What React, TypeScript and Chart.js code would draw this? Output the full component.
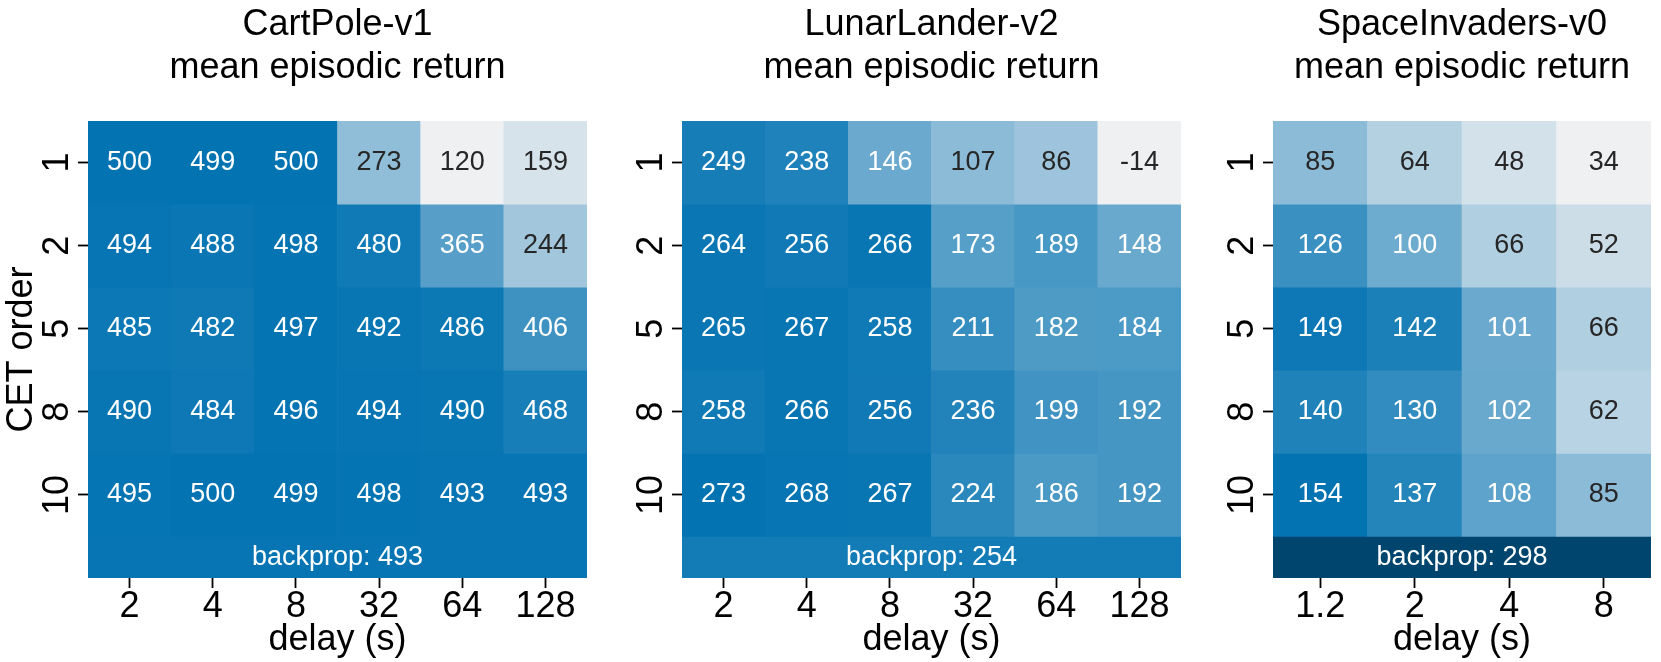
import React, { useEffect, useRef } from 'react';
import { Chart, registerables } from 'chart.js';

Chart.register(...registerables);

// ---------- data ----------
const cetOrders = ['1', '2', '5', '8', '10'];

const cartPoleDelays = ['2', '4', '8', '32', '64', '128'];
const cartPoleReturns = [
  [500, 499, 500, 273, 120, 159],
  [494, 488, 498, 480, 365, 244],
  [485, 482, 497, 492, 486, 406],
  [490, 484, 496, 494, 490, 468],
  [495, 500, 499, 498, 493, 493],
];
const cartPoleBackprop = 493;

const lunarDelays = ['2', '4', '8', '32', '64', '128'];
const lunarReturns = [
  [249, 238, 146, 107, 86, -14],
  [264, 256, 266, 173, 189, 148],
  [265, 267, 258, 211, 182, 184],
  [258, 266, 256, 236, 199, 192],
  [273, 268, 267, 224, 186, 192],
];
const lunarBackprop = 254;

const spaceDelays = ['1.2', '2', '4', '8'];
const spaceReturns = [
  [85, 64, 48, 34],
  [126, 100, 66, 52],
  [149, 142, 101, 66],
  [140, 130, 102, 62],
  [154, 137, 108, 85],
];
const spaceBackprop = 298;

const cartPoleTitle = ['CartPole-v1', 'mean episodic return'];
const lunarTitle = ['LunarLander-v2', 'mean episodic return'];
const spaceTitle = ['SpaceInvaders-v0', 'mean episodic return'];
const xAxisTitle = 'delay (s)';
const yAxisTitle = 'CET order';

// ---------- style ----------
const FONT = "'Liberation Sans', Arial, Helvetica, sans-serif";
const LOW = [239, 240, 242];
const HIGH = [3, 115, 178];
const OVER = [0, 69, 110];
const DARK_TEXT = '#262626';

function colorFor(v: number, vmin: number, vmax: number): number[] {
  if (v > vmax) return OVER;
  let t = (v - vmin) / (vmax - vmin);
  t = Math.max(0, Math.min(1, t));
  return LOW.map((c, i) => Math.round(c + (HIGH[i] - c) * t));
}
function rgb(c: number[]) {
  return `rgb(${c[0]},${c[1]},${c[2]})`;
}
function textColorFor(c: number[]) {
  const f = (x: number) => {
    x /= 255;
    return x <= 0.03928 ? x / 12.92 : Math.pow((x + 0.055) / 1.055, 2.4);
  };
  const L = 0.2126 * f(c[0]) + 0.7152 * f(c[1]) + 0.0722 * f(c[2]);
  return L > 0.408 ? DARK_TEXT : '#ffffff';
}

const cellLabels = {
  id: 'cellLabels',
  afterDatasetsDraw(chart: any) {
    const ctx = chart.ctx;
    chart.data.datasets.forEach((ds: any, di: number) => {
      const meta = chart.getDatasetMeta(di);
      meta.data.forEach((el: any, i: number) => {
        const v = ds.cellValues[i];
        const cx = el.x;
        const cy = (el.y + el.base) / 2;
        ctx.save();
        ctx.font = `${ds.isBand ? 27 : 27}px ${FONT}`;
        ctx.fillStyle = ds.textColors[i];
        ctx.textAlign = 'center';
        ctx.textBaseline = 'middle';
        ctx.fillText(ds.isBand ? `backprop: ${v}` : String(v), cx, cy);
        ctx.restore();
      });
    });
  },
};

type PanelSpec = {
  title: string[];
  delays: string[];
  values: number[][];
  backprop: number;
  showYTitle: boolean;
  left: number;
  width: number;
  yWidth: number;
  rightPad: number;
};

function buildConfig(p: PanelSpec): any {
  const flat = p.values.flat();
  const vmin = Math.min(...flat);
  const vmax = Math.max(...flat);
  const datasets: any[] = p.values.map((row, r) => {
    const cols = row.map((v) => colorFor(v, vmin, vmax));
    return {
      label: 'CET order ' + cetOrders[r],
      data: row.map(() => [r - 0.5, r + 0.5]),
      backgroundColor: cols.map(rgb),
      cellValues: row,
      textColors: cols.map(textColorFor),
      isBand: false,
      grouped: false,
      categoryPercentage: 1,
      barPercentage: 1,
      borderWidth: 0,
      xAxisID: 'x',
      yAxisID: 'y',
    };
  });
  const bandCol = colorFor(p.backprop, vmin, vmax);
  datasets.push({
    label: 'backprop',
    data: [[cetOrders.length - 0.5, cetOrders.length]],
    backgroundColor: [rgb(bandCol)],
    cellValues: [p.backprop],
    textColors: ['#ffffff'],
    isBand: true,
    grouped: false,
    categoryPercentage: 1,
    barPercentage: 1,
    borderWidth: 0,
    xAxisID: 'x2',
    yAxisID: 'y',
  });

  return {
    type: 'bar',
    data: { labels: p.delays, datasets },
    plugins: [cellLabels],
    options: {
      responsive: false,
      animation: false,
      events: [],
      layout: { padding: { left: 0, right: p.rightPad, top: 0, bottom: 0 } },
      plugins: {
        legend: { display: false },
        tooltip: { enabled: false },
        title: {
          display: true,
          text: p.title,
          fullSize: false,
          color: '#000',
          font: { family: FONT, size: 36, weight: 'normal', lineHeight: 1.2 },
          padding: { top: 3, bottom: 31.6 },
        },
      },
      scales: {
        x: {
          type: 'category',
          offset: true,
          afterFit: (s: any) => {
            s.height = 84;
          },
          border: { display: false },
          grid: {
            display: true,
            offset: false,
            drawOnChartArea: false,
            drawTicks: true,
            tickLength: 10,
            tickWidth: 1.8,
            tickColor: '#000',
          },
          ticks: {
            color: '#000',
            font: { family: FONT, size: 36 },
            padding: -3,
            maxRotation: 0,
            minRotation: 0,
            autoSkip: false,
          },
          title: {
            display: true,
            text: xAxisTitle,
            color: '#000',
            font: { family: FONT, size: 36 },
            padding: { top: 0, bottom: 0 },
          },
        },
        x2: {
          type: 'category',
          labels: ['backprop'],
          offset: true,
          display: false,
        },
        y: {
          type: 'linear',
          min: -0.5,
          max: cetOrders.length,
          reverse: true,
          afterBuildTicks: (s: any) => {
            s.ticks = cetOrders.map((_, i) => ({ value: i }));
          },
          afterFit: (s: any) => {
            s.width = p.yWidth;
          },
          border: { display: false },
          grid: {
            display: true,
            drawOnChartArea: false,
            drawTicks: true,
            tickLength: 10,
            tickWidth: 1.8,
            tickColor: '#000',
          },
          ticks: {
            color: '#000',
            font: { family: FONT, size: 36 },
            padding: 0,
            minRotation: 90,
            maxRotation: 90,
            crossAlign: 'center',
            autoSkip: false,
            callback: (_v: any, i: number) => cetOrders[i],
          },
          title: {
            display: p.showYTitle,
            text: yAxisTitle,
            color: '#000',
            font: { family: FONT, size: 36 },
            padding: { top: 0, bottom: 0 },
          },
        },
      },
    },
  };
}

const panelSpecs: PanelSpec[] = [
  {
    title: cartPoleTitle,
    delays: cartPoleDelays,
    values: cartPoleReturns,
    backprop: cartPoleBackprop,
    showYTitle: true,
    left: 0,
    width: 600,
    yWidth: 88,
    rightPad: 13,
  },
  {
    title: lunarTitle,
    delays: lunarDelays,
    values: lunarReturns,
    backprop: lunarBackprop,
    showYTitle: false,
    left: 600,
    width: 590,
    yWidth: 82,
    rightPad: 9,
  },
  {
    title: spaceTitle,
    delays: spaceDelays,
    values: spaceReturns,
    backprop: spaceBackprop,
    showYTitle: false,
    left: 1190,
    width: 471,
    yWidth: 83,
    rightPad: 10,
  },
];

function Panel({ spec }: { spec: PanelSpec }) {
  const ref = useRef<HTMLCanvasElement | null>(null);
  useEffect(() => {
    if (!ref.current) return;
    const chart = new Chart(ref.current, buildConfig(spec));
    return () => chart.destroy();
  }, [spec]);
  return (
    <canvas
      ref={ref}
      width={spec.width}
      height={662}
      style={{ position: 'absolute', left: spec.left, top: 0, width: spec.width, height: 662 }}
    />
  );
}

export default function App() {
  return (
    <div style={{ position: 'absolute', left: 0, top: 0, width: 1661, height: 662, background: '#fff', overflow: 'hidden' }}>
      {panelSpecs.map((s, i) => (
        <Panel key={i} spec={s} />
      ))}
    </div>
  );
}
